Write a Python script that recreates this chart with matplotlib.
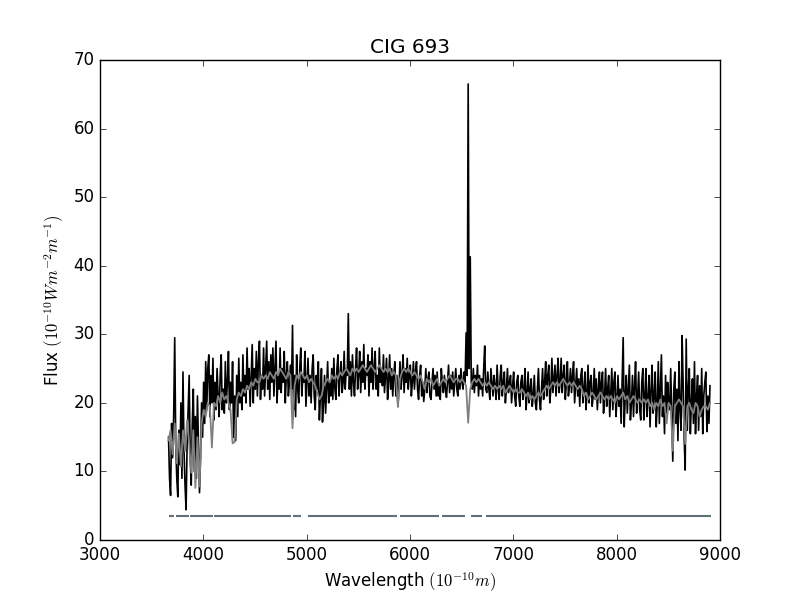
import numpy as np
import matplotlib
matplotlib.use("Agg")
import matplotlib.pyplot as plt

plt.style.use("classic")

# observed spectrum (black): 10 A sampling from 3663 A
obs_start, obs_step = 3663, 10
flux_obs = [
    15, 9, 6.5, 17, 12, 18, 29.5, 14, 9, 6.3, 16, 11, 20, 9, 24.5, 13, 8, 4.4, 14, 19,
    24, 12, 8, 17, 22, 10, 18, 9, 21, 14, 6.9, 12, 20, 15, 23, 17, 26, 19, 25, 27,
    18, 24, 20, 26.5, 17.5, 23, 19, 25, 21, 18, 24, 27, 19, 22, 18.5, 26, 20, 23, 27.5, 19,
    23, 20, 26, 15, 21, 14.5, 24, 18, 26.5, 20, 23, 19, 27, 21, 24, 20, 28, 22, 25, 19.5,
    24, 28.5, 20, 25, 22, 27.5, 21, 26, 29, 20.5, 24, 22, 28, 21, 25, 29, 22, 26, 20.5, 27,
    23, 28, 21, 25, 29, 20, 24, 22, 28, 21.5, 25, 23, 27.5, 20, 24, 26, 21, 23, 25.5, 22,
    31.3, 19, 24, 18, 27, 22, 20, 25, 28, 21, 24, 23, 27.5, 19.5, 23, 26.5, 21, 24, 20, 25,
    27, 21, 19, 24, 22, 26, 17.5, 21, 25, 17.2, 20, 24, 18.5, 22, 26, 20, 23, 21, 25, 20.5,
    26.5, 22, 20.5, 25, 27, 21, 24, 26, 21.5, 23, 27.5, 22, 25, 24, 33, 22, 26, 21, 27, 23,
    21, 25, 28, 22, 24, 27.5, 21.5, 26, 23, 28.5, 22, 25, 24, 27, 21, 26, 23, 28, 22, 25,
    27.5, 22, 24, 21, 28, 23, 25, 22.5, 27, 21.5, 24, 26.5, 20.5, 23, 27, 22, 25, 21, 24, 26,
    21, 24, 19.5, 22, 26, 22, 24, 27, 21.5, 25, 23, 26.5, 22, 24, 25.5, 21, 23, 26, 22, 24.5,
    26, 22, 20.5, 24, 25.5, 21, 23, 20.2, 22, 25, 21.5, 23.5, 24.5, 21, 20.5, 23, 25, 22, 24, 21,
    24.5, 21, 22.5, 20.5, 25, 23, 21.5, 24, 22, 20.8, 23, 25.5, 21.5, 24, 22, 24.5, 21, 23, 25, 22,
    21, 24, 22, 25, 23, 22, 24.5, 23, 30.2, 24, 66.5, 25, 41.3, 23, 22, 25, 21.5, 24, 22.5, 25.5,
    21, 24, 22, 23.5, 21, 25, 28.3, 22, 21.5, 24.5, 22, 20.5, 25, 23, 21, 24, 22.5, 20.5, 25.5, 22,
    20.5, 24, 25.5, 21, 23, 24.5, 20, 22, 25, 21.5, 23, 24, 20, 22.5, 24.5, 21, 19.5, 23, 24, 21,
    19.5, 23, 24, 20.5, 22, 25, 19, 21.5, 24.5, 20, 22, 23.5, 19.5, 21, 24, 20, 19, 22, 25, 20.5,
    19, 22, 25, 20.5, 23, 26, 21, 24, 25.5, 20, 22, 26.5, 21.5, 23.5, 25.5, 21, 24, 26.5, 21.5, 23,
    26.5, 21.5, 24, 25.5, 20.5, 23, 26, 21, 22.5, 25, 21.5, 24, 26, 20, 22.5, 25, 21, 23.5, 19.5, 24,
    25, 20, 22, 24.5, 19, 21.5, 25.5, 20, 23, 24, 19.5, 21, 25, 20.5, 23.5, 19, 22, 24.5, 20, 23,
    24.5, 18.5, 21, 25, 19.5, 22, 24, 18, 21.5, 25, 19, 23, 24.5, 18, 20.5, 24, 19.5, 22, 17, 23,
    29.5, 16.5, 21, 24, 18.5, 22, 25.5, 17.5, 20, 24, 18, 22.5, 26, 18.5, 21, 24.5, 19, 17.5, 23, 25,
    17.5, 21, 25, 18, 20.5, 24, 16.5, 22, 25.5, 18.5, 21, 24.5, 16.5, 20, 26, 17, 22, 27, 18, 21,
    15.5, 24, 18, 23, 20, 19, 25, 18, 11.5, 22, 24.5, 17, 22, 14.5, 26, 19, 16, 29.8, 23, 15,
    10.2, 29.3, 16, 22, 25, 15.5, 20, 23.5, 17, 26, 15.5, 21, 24, 16, 22.5, 18, 25, 15.5, 21, 23,
    24.5, 15.8, 21, 17, 22.5,
]

# model spectrum (gray): 20 A sampling from 3663 A
model_start, model_step = 3663, 20
flux_model = [
    14.5, 16, 12.5, 17, 11.2, 15.5, 10.7, 16, 13, 17.5,
    14, 9.8, 16, 7.6, 15, 7.8, 17, 19, 18, 20,
    19.5, 13.5, 20, 19.5, 21, 20, 21.5, 20.5, 21, 20,
    19, 14.1, 14.3, 20.5, 21.5, 21, 22, 21.5, 22.5, 22,
    23, 22.5, 23.5, 23, 23, 24, 23.5, 24, 23.5, 24.5,
    24, 23.5, 24.5, 24, 25, 24.5, 24, 23.5, 24.5, 24,
    16.3, 22.5, 24, 23.5, 24.5, 24, 23.5, 24, 23, 23.5,
    23, 22.5, 21.5, 20.5, 21, 22.5, 23, 23.5, 23, 24,
    23.5, 24, 23.5, 24.5, 24, 24.5, 25, 24.5, 24, 25,
    24.5, 25, 24.5, 25, 25.5, 25, 24.5, 25, 25.5, 25,
    24.5, 25, 25.5, 25, 24.5, 25, 24.5, 25, 24, 24.5,
    24, 19.4, 23.5, 24.5, 25, 24.5, 25, 24.5, 24, 24.5,
    24, 23.5, 24, 23, 22, 23.5, 23, 23.5, 22.5, 23,
    23.5, 22.5, 23, 23.5, 23, 23.5, 24, 23.5, 23, 23.5,
    23.5, 23, 23.5, 23, 22.5, 17.1, 22, 23, 23.5, 23,
    23.5, 23, 22.5, 23, 22.5, 23, 22.5, 22, 22.5, 22,
    22.5, 22, 22.5, 21.5, 22, 22.5, 22, 21.5, 22, 21.5,
    21.5, 22, 21.5, 21, 21.5, 20.5, 21, 20.5, 21, 21.5,
    21, 21.5, 22, 22.5, 22, 22.5, 23, 22.5, 23, 22.5,
    23, 23.5, 23, 22.5, 23, 22.5, 23, 22.5, 22, 22.5,
    22, 21, 21.5, 20.5, 21, 21.5, 21, 20.5, 21, 21.5,
    21, 20.5, 21, 20.5, 21, 20.5, 20, 21, 20.5, 21,
    21.5, 20.5, 21, 20, 20.5, 21, 20.5, 20, 20.5, 20,
    20.5, 20, 20.5, 19.5, 20, 19, 20, 19.5, 20.5, 19.5,
    20, 17, 20, 19.5, 13, 19.5, 20, 20.5, 20, 19.5,
    14, 19.5, 20, 19, 18.5, 20, 19.5, 18, 19, 19.5,
    19.5, 19, 20,
]

# good-pixel mask segments, drawn as a flat line
mask_level = 3.5
mask_segments = [
    (3667, 3719), (3736, 3857), (3875, 4093), (4106, 4845),
    (4863, 4946), (5012, 5872), (5907, 6277), (6311, 6528),
    (6591, 6695), (6736, 8914),
]

wave_obs = obs_start + obs_step * np.arange(len(flux_obs))
wave_model = model_start + model_step * np.arange(len(flux_model))

fig = plt.figure(figsize=(8, 6), dpi=100)
ax = fig.add_subplot(111)

ax.plot(wave_obs, flux_obs, color="black", lw=1.2)
ax.plot(wave_model, flux_model, color="gray", lw=1.3)
for a, b in mask_segments:
    ax.plot([a, b], [mask_level, mask_level], color="#607078", lw=1.5,
            solid_capstyle="butt")

ax.set_xlim(3000, 9000)
ax.set_ylim(0, 70)
ax.set_title("CIG 693")
ax.set_xlabel(r"Wavelength $(10^{-10} m)$")
ax.set_ylabel(r"Flux $(10^{-10} W m^{-2} m^{-1})$")

fig.savefig("out.png", dpi=100)
